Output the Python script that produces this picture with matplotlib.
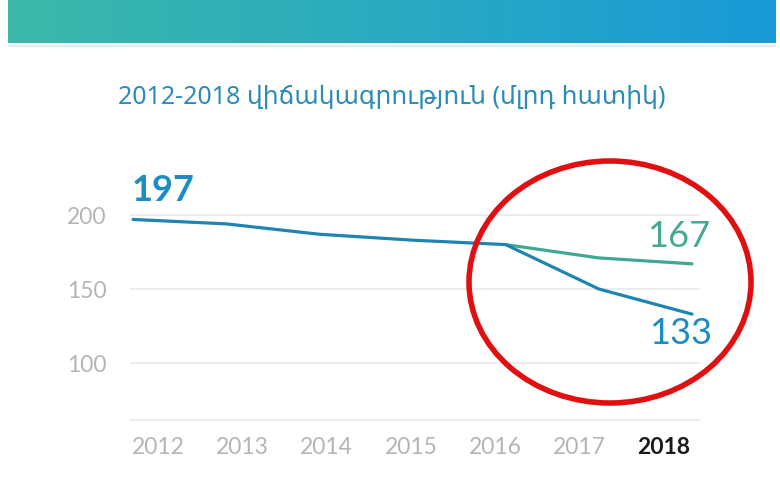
import numpy as np
import matplotlib
matplotlib.use("Agg")
import matplotlib.pyplot as plt
from matplotlib.patches import Ellipse
from matplotlib.colors import LinearSegmentedColormap

# ---- data ----
years = [2012, 2013, 2014, 2015, 2016, 2017, 2018]
blue_values = [197, 194, 187, 183, 180, 150, 133]
green_years = [2016, 2017, 2018]
green_values = [180, 171, 167]
y_ticks = [100, 150, 200]
x_tick_labels = ["2012", "2013", "2014", "2015", "2016", "2017", "2018"]
title_text = "2012-2018 վիճակագրություն (մլրդ հատիկ)"

BLUE = "#1f84b0"
BLUE_TXT = "#1c8cc2"
GREEN = "#3da894"
GREEN_TXT = "#46a992"
GRID = "#e8e8e8"
TICK = "#b5b5b5"

NUM_FONT = ["Lato", "DejaVu Sans"]
TITLE_FONT = ["Noto Sans", "DejaVu Sans"]

W, H = 780, 500
fig = plt.figure(figsize=(W / 100, H / 100), dpi=100)
fig.patch.set_facecolor("white")

# ---- top gradient banner ----
bax = fig.add_axes([8 / W, 1 - 43 / H, 768 / W, 43 / H])
cmap = LinearSegmentedColormap.from_list("band", ["#3cb9a9", "#2aaac0", "#1a9ad8"])
grad = np.linspace(0, 1, 256).reshape(1, -1)
bax.imshow(grad, aspect="auto", cmap=cmap, extent=[0, 1, 0, 1])
bax.axis("off")
sax = fig.add_axes([8 / W, 1 - 47 / H, 768 / W, 4 / H])
shadow = np.linspace(0, 1, 32).reshape(-1, 1)
sax.imshow(shadow, aspect="auto", cmap=LinearSegmentedColormap.from_list("sh", ["#ffffff", "#d8e6ea"]),
           extent=[0, 1, 0, 1])
sax.axis("off")

# ---- title ----
fig.text(392 / W, 1 - 97 / H, title_text, ha="center", va="center",
         fontsize=18, color="#2b8cb8", family=TITLE_FONT)

# ---- main axes ----
ax = fig.add_axes([130 / W, 80 / H, 570 / W, 260 / H])
px_per_year = 93.2
ax.set_xlim(2012 - 3 / px_per_year, 2018 + 8 / px_per_year)
ax.set_ylim(200 - 205 / 1.48, 200 + 55 / 1.48)

for v in y_ticks:
    ax.axhline(v, color=GRID, lw=1.1, zorder=1)
for s in ["top", "right", "left"]:
    ax.spines[s].set_visible(False)
ax.spines["bottom"].set_color(GRID)
ax.spines["bottom"].set_linewidth(1.1)

ax.plot(green_years, green_values, color=GREEN, lw=2.3, zorder=3, solid_capstyle="round")
ax.plot(years, blue_values, color=BLUE, lw=2.3, zorder=4, solid_capstyle="round")

ax.set_yticks(y_ticks)
ax.set_yticklabels([str(v) for v in y_ticks], family=NUM_FONT, fontsize=16.5, color=TICK)
ax.tick_params(axis="y", length=0, pad=17)

xt = np.linspace(2012.27, 2017.70, len(years))
ax.set_xticks(xt)
ax.set_xticklabels(x_tick_labels, family=NUM_FONT, fontsize=16.5, color=TICK)
ax.tick_params(axis="x", length=0, pad=12)
lbl = ax.get_xticklabels()[-1]
lbl.set_color("#1a1a1a")
lbl.set_fontweight("bold")

# ---- value labels ----
ax.annotate(str(blue_values[0]), (years[0], blue_values[0]), xytext=(-1, 18),
            textcoords="offset pixels", ha="left", va="baseline",
            fontsize=26, fontweight="bold", color=BLUE_TXT, family=NUM_FONT)
ax.annotate(str(green_values[-1]), (green_years[-1], green_values[-1]), xytext=(18, 17),
            textcoords="offset pixels", ha="right", va="baseline",
            fontsize=26, color=GREEN_TXT, family=NUM_FONT)
ax.annotate(str(blue_values[-1]), (years[-1], blue_values[-1]), xytext=(20, -30),
            textcoords="offset pixels", ha="right", va="baseline",
            fontsize=26, color=BLUE_TXT, family=NUM_FONT)

# ---- red highlight ellipse ----
ell = Ellipse((610 / W, 1 - 282 / H), 282 / W, 242 / H, transform=fig.transFigure,
              fill=False, edgecolor="#e01010", lw=4.0, zorder=10)
fig.add_artist(ell)

fig.savefig("out.png", dpi=100, facecolor="white")
